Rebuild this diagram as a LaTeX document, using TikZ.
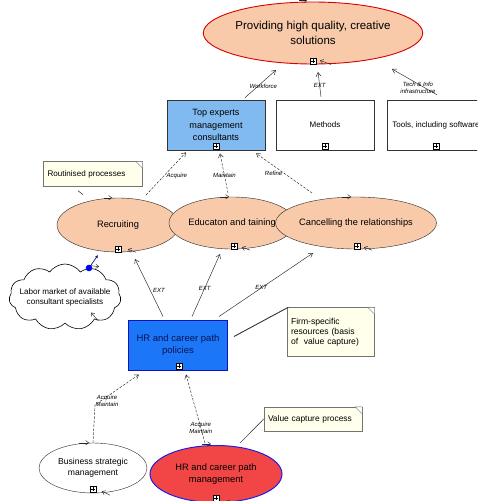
\documentclass[tikz,border=0pt]{standalone}
\usepackage{fontspec}
\setmainfont{Liberation Sans}
\usetikzlibrary{shapes.geometric,shapes.symbols,shapes.misc,arrows.meta,calc}
\definecolor{peach}{RGB}{248,202,170}
\definecolor{lblue}{RGB}{128,186,240}
\definecolor{hblue}{RGB}{28,118,248}
\definecolor{hred}{RGB}{242,70,70}
\definecolor{notefill}{RGB}{255,255,236}
\tikzset{
  proc/.style={ellipse, draw=black!85, fill=peach, inner sep=0pt, align=center, font=\fontsize{9.3}{11.5}\selectfont},
  resbox/.style={rectangle, draw=black!80, fill=white, inner sep=0pt, align=center, font=\fontsize{8}{10}\selectfont, minimum width=98pt, minimum height=50pt},
  notebox/.style={draw=black!55, fill=notefill, inner sep=0pt, align=left, font=\fontsize{8.1}{10}\selectfont},
  plusbox/.style={rectangle, draw=black, fill=white, minimum size=6.3pt, inner sep=0pt,
    path picture={\draw[line width=0.4pt] ($(path picture bounding box.west)+(1.1pt,0)$) -- ($(path picture bounding box.east)+(-1.1pt,0)$)
       ($(path picture bounding box.north)+(0,-1.1pt)$) -- ($(path picture bounding box.south)+(0,1.1pt)$);}},
  lbl/.style={font=\fontsize{6}{7.5}\selectfont\itshape, inner sep=0.5pt, align=center},
  ext/.style={draw=black!85, line width=0.45pt, -{Straight Barb[length=4pt,width=5pt]}},
  extd/.style={ext, dashed, dash pattern=on 2.5pt off 1.5pt},
  mk/.style={draw=black!85, line width=0.45pt, -{Straight Barb[length=3pt,width=4.5pt]}},
}
\begin{document}
\begin{tikzpicture}[x=1pt,y=-1pt]
\clip (0,0) rectangle (477,501);
\fill[white] (0,0) rectangle (477,501);

% top goal
\node[proc, draw=red!85!black, line width=0.9pt, minimum width=196pt, minimum height=62pt, font=\fontsize{11.5}{15}\selectfont] (goal) at (313,33) {Providing high quality, creative\\solutions};
\node[plusbox] (pg) at (313,61) {};

% resources
\node[resbox, fill=lblue, draw=black!80, line width=0.6pt, font=\fontsize{9.1}{12.5}\selectfont] (te) at (216,125) {Top experts\\management\\consultants};
\node[plusbox] (pte) at (216,146) {};
\node[resbox] (me) at (325,125) {Methods};
\node[plusbox] (pme) at (325,146) {};
\node[resbox] (to) at (436,125) {Tools, including software};
\node[plusbox] (pto) at (436,146) {};

% processes
\node[proc, minimum width=122pt, minimum height=54pt] (re) at (118,225) {Recruiting};
\node[proc, minimum width=126pt, minimum height=52pt] (ed) at (232,223) {Educaton and taining};
\node[proc, minimum width=144pt, minimum height=52pt] (ca) at (356,223) {Cancelling the relationships};
\node[plusbox] (pre) at (118,249) {};
\node[plusbox] (ped) at (234,246) {};
\node[plusbox] (pca) at (357,246) {};

% notes
\node[notebox, minimum width=99pt, minimum height=25pt, text width=91pt] (rn) at (93,174) {Routinised processes};
\draw[draw=black!55, fill=white] ($(rn.north east)+(-7,0)$) -- ($(rn.north east)+(0,7)$) -- ($(rn.north east)$) -- cycle;
\node[notebox, minimum width=87pt, minimum height=49pt, text width=80pt, font=\fontsize{8.6}{10.2}\selectfont] (fn) at (331,332) {Firm-specific\\resources (basis\\of \ value capture)};
\draw[draw=black!55, fill=white] ($(fn.north east)+(-7,0)$) -- ($(fn.north east)+(0,7)$) -- ($(fn.north east)$) -- cycle;
\node[notebox, minimum width=98pt, minimum height=24pt, text width=90pt, font=\fontsize{8.4}{10}\selectfont] (vn) at (313,419) {Value capture process};
\draw[draw=black!55, fill=white] ($(vn.north east)+(-7,0)$) -- ($(vn.north east)+(0,7)$) -- ($(vn.north east)$) -- cycle;

% cloud
\node[cloud, cloud puffs=11, cloud puff arc=110, draw=black, fill=white, line width=0.6pt, minimum width=112pt, minimum height=66pt, inner sep=0pt,
  label={[font=\fontsize{8.1}{10}\selectfont, align=center, inner sep=0pt]center:Labor market of available\\consultant specialists}] (cl) at (65,297) {};

% HR policies
\node[rectangle, draw={rgb,255:red,16;green,16;blue,190}, line width=1pt, fill=hblue, minimum width=99pt, minimum height=50pt, inner sep=0pt, align=center, text={rgb,255:red,10;green,20;blue,80}, font=\fontsize{9.5}{12.5}\selectfont] (hp) at (178,345) {HR and career path\\policies};
\node[plusbox] (php) at (179,366) {};

% bottom processes
\node[proc, fill=white, minimum width=108pt, minimum height=50pt, font=\fontsize{8.6}{11}\selectfont] (bs) at (93,468) {Business strategic\\management};
\node[plusbox] (pbs) at (93,489) {};
\node[proc, fill=hred, draw={rgb,255:red,30;green,30;blue,230}, line width=1pt, minimum width=132pt, minimum height=57pt, font=\fontsize{9.3}{12}\selectfont] (hm) at (216,474) {HR and career path\\management};
\node[plusbox] (phm) at (216,498) {};

% connectors to goal
\draw[ext] ($(te.north)+(29,-2)$) -- node[lbl, pos=0.4, xshift=6pt] {Workforce} ($(goal.center)+(-37,37)$);
\draw[ext] ($(me.north)+(-4,-3)$) -- node[lbl, pos=0.45] {EXT} ($(goal.center)+(5,39)$);
\draw[ext] ($(to.north)+(1,-5)$) -- ($(goal.center)+(79,36)$);
\node[lbl] (ti) at (418,88) {Tech \& Info\\infrastructure};

% processes to top experts
\draw[extd] ($(re.center)+(28,-30)$) -- node[lbl, pos=0.45, right=2pt] {Acquire} ($(te.south)+(-30,2)$);
\draw[extd] ($(ed.center)+(-4,-30)$) -- node[lbl, pos=0.45] {Maintain} ($(te.south)+(4,3)$);
\draw[extd] ($(ca.center)+(-44,-30)$) -- node[lbl, pos=0.5, left=1pt] {Refine} ($(te.south)+(40,3)$);

% HR policies to processes
\draw[ext] ($(hp.north)+(-15,-3)$) -- node[lbl, pos=0.45, right=2pt] {EXT} ($(re.center)+(17,34)$);
\draw[ext] ($(hp.north)+(14,-3)$) -- node[lbl, pos=0.45] {EXT} ($(ed.center)+(-12,31)$);
\draw[ext] ($(hp.north)+(41,-3)$) -- node[lbl, pos=0.45] {EXT} ($(ca.center)+(-43,30)$);

% notes connectors
\draw[black!80, line width=0.9pt] ($(hp.north east)+(6,17)$) -- (fn.150);
\draw[black!70, line width=0.6pt] ($(hm.north)+(24,-2)$) -- (vn.west);
\draw[black!80, line width=0.6pt] ($(rn.south)+(-15,4)$) -- ($(rn.south)+(-10,8)$);

% cloud to recruiting
\coordinate (cd) at (89,268);
\draw[draw={rgb,255:red,20;green,20;blue,120}, line width=0.7pt, -{Latex[length=3pt,width=3pt]}] (cd) -- ($(re.center)+(-20,30)$);
\fill[blue] (cd) circle (3.3pt);

% bottom to HR policies
\draw[extd] (bs.north) -- ($(bs.north)+(2,-38)$) -- node[lbl, pos=0, right=0pt, yshift=4pt] {Acquire\\Maintain} ($(hp.south)+(-39,4)$);
\draw[extd] ($(hm.north)+(-11,-2)$) -- node[lbl, pos=0.22] {Acquire\\Maintain} ($(hp.south)+(8,4)$);

% direction markers on ellipses
\draw[mk] ($(goal.north)+(-14,-1)$) -- ($(goal.north)+(-6,-1)$);
\draw[mk] ($(goal.south)+(18,0)$) -- ($(goal.south)+(7,-4)$);
\draw[mk] ($(re.north)+(-14,0)$) -- ($(re.north)+(-6,0)$);
\draw[mk] ($(re.south)+(18,0)$) -- ($(re.south)+(10,-3)$);
\draw[mk] ($(ed.north)+(-12,0)$) -- ($(ed.north)+(-3,0)$);
\draw[mk] ($(ed.south)+(18,1)$) -- ($(ed.south)+(10,-2)$);
\draw[mk] ($(ca.north)+(-14,0)$) -- ($(ca.north)+(-5,0)$);
\draw[mk] ($(ca.south)+(16,1)$) -- ($(ca.south)+(8,-2)$);
\draw[mk] ($(bs.north)+(-14,0)$) -- ($(bs.north)+(-4,0)$);
\draw[mk] ($(bs.south)+(17,2)$) -- ($(bs.south)+(9,-2)$);
\draw[mk] ($(hm.north)+(-14,-1)$) -- ($(hm.north)+(-5,-1)$);
\draw[mk] ($(hm.south)+(18,1)$) -- ($(hm.south)+(10,-2)$);
\draw[mk] ($(cl.north)+(26,2)$) -- ($(cl.north)+(34,3)$);
\draw[mk] ($(cl.south)+(33,-3)$) -- ($(cl.south)+(26,-11)$);
\end{tikzpicture}
\end{document}
